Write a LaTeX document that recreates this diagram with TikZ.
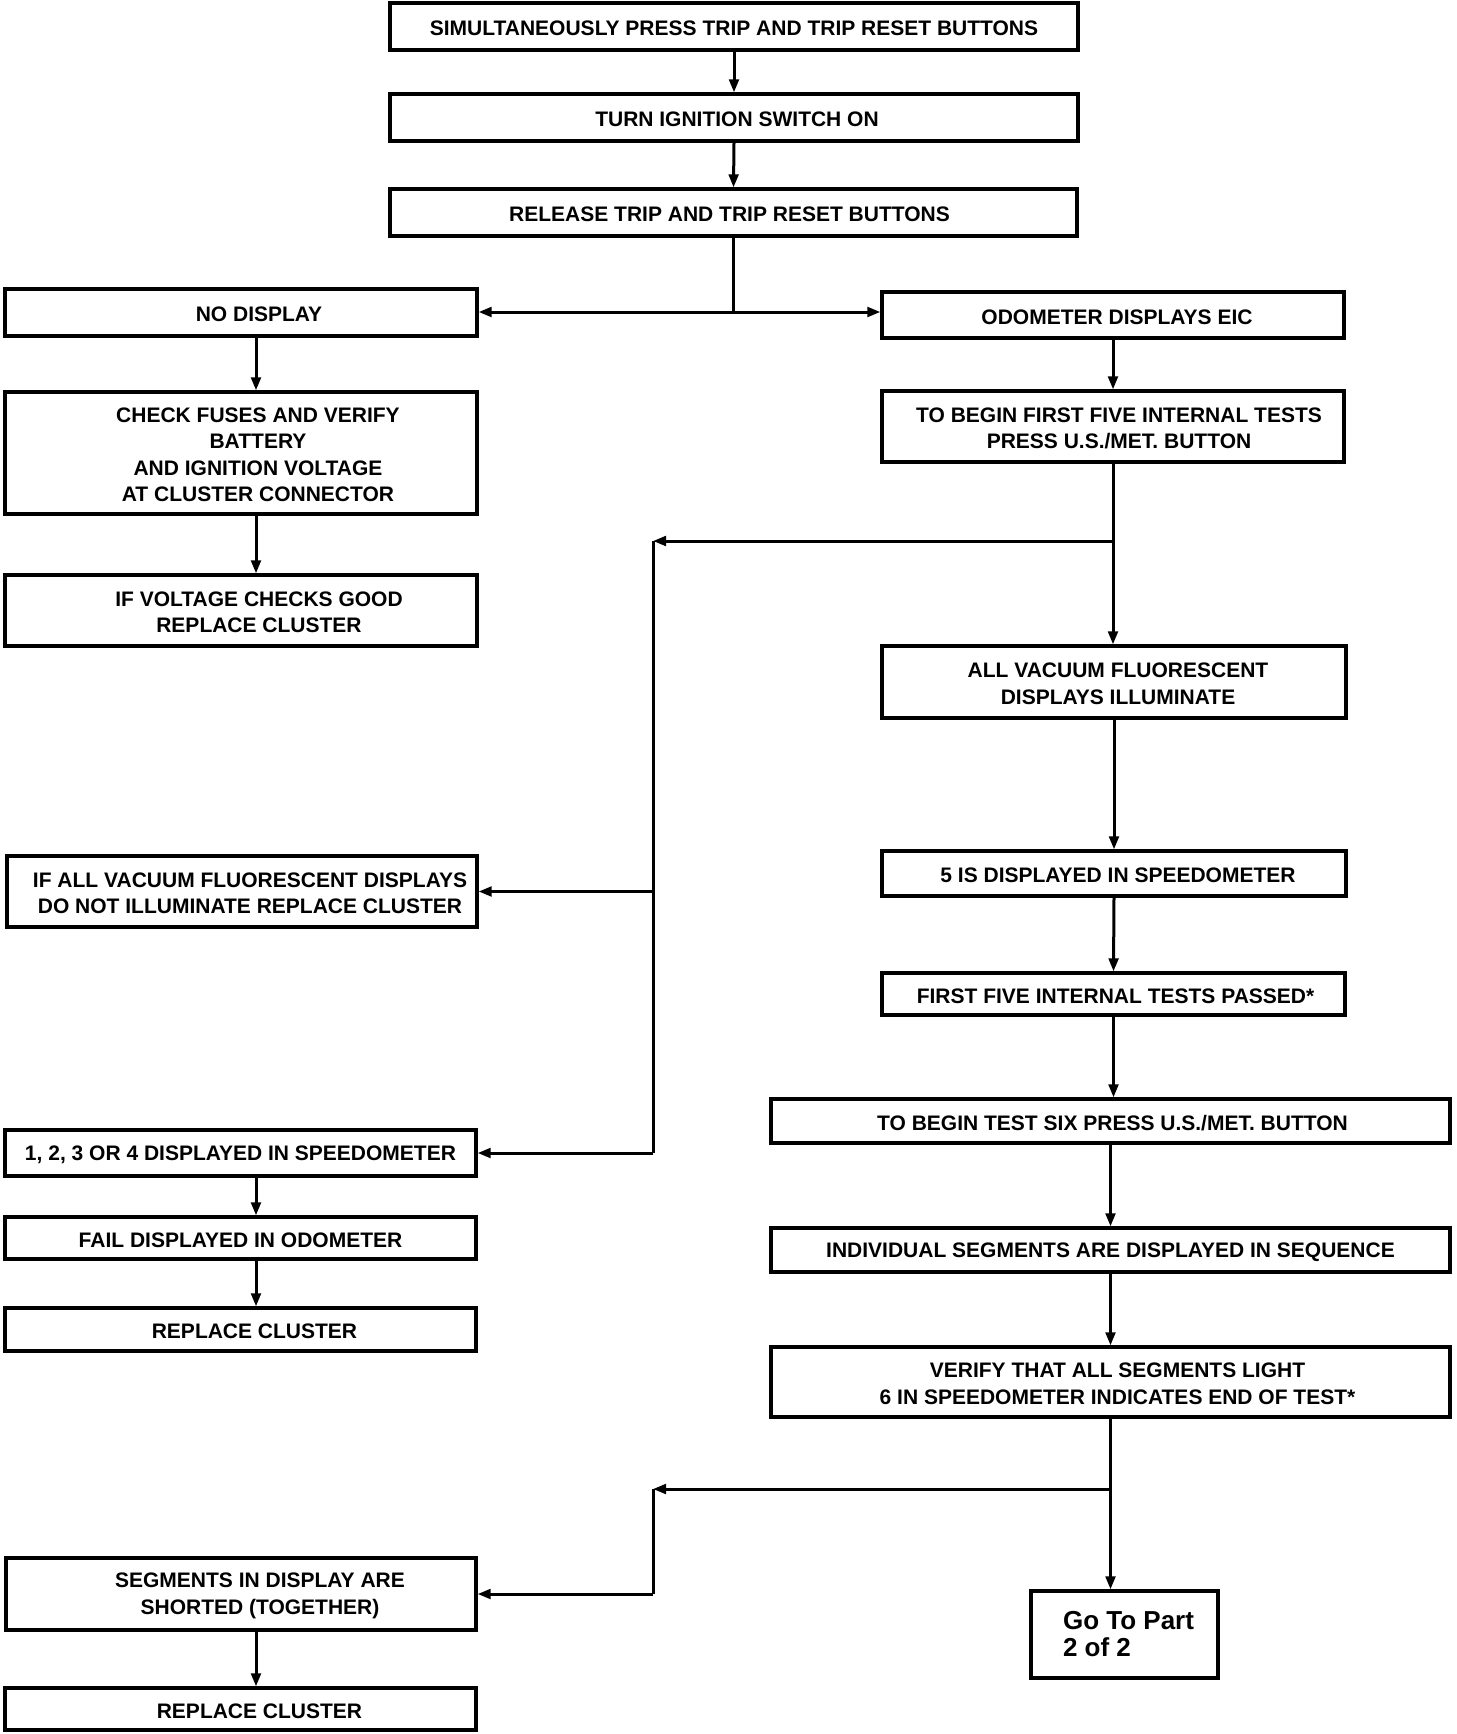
\documentclass[tikz,border=0pt]{standalone}
\usepackage{fontspec}
\setmainfont{Liberation Sans}
\usetikzlibrary{arrows.meta}
\newcommand\bx[7]{%
  \node[box, minimum width={(#4-#2)*0.5pt}, minimum height={(#5-#3)*0.5pt},
    label={[lbl, xshift={#6*0.5pt}]center:{#7}}] (#1) at ({(#2+#4)/2},{(#3+#5)/2}) {};}
\begin{document}
\begin{tikzpicture}[x=0.5pt,y=-0.5pt,
  box/.style={draw, line width=1.6pt, inner sep=0pt, rectangle},
  lbl/.style={font=\fontsize{10.5}{13.25}\selectfont\bfseries, align=center, inner sep=0pt, yshift=-1pt},
  golbl/.style={font=\fontsize{13}{13.5}\selectfont\bfseries, align=left, inner sep=0pt, xshift=2pt},
  arr/.style={line width=1.5pt, -{Triangle[length=6.5pt,width=4.8pt]}},
  ln/.style={line width=1.5pt}]
\fill[white] (0,0) rectangle (1456,1734);
\useasboundingbox (0,0) rectangle (1456,1734);

\bx{b1}{390}{3}{1078}{50}{0}{SIMULTANEOUSLY PRESS TRIP AND TRIP RESET BUTTONS}
\bx{b2}{390}{94}{1078}{141}{3}{TURN IGNITION SWITCH ON}
\bx{b3}{390}{189}{1077}{236}{-4}{RELEASE TRIP AND TRIP RESET BUTTONS}
\bx{b4}{5}{289}{477}{336}{18}{NO DISPLAY}
\bx{b5}{882}{292}{1344}{338}{4}{ODOMETER DISPLAYS EIC}
\bx{b6}{5}{392}{477}{514}{17}{CHECK FUSES AND VERIFY\\BATTERY\\AND IGNITION VOLTAGE\\AT CLUSTER CONNECTOR}
\bx{b7}{882}{391}{1344}{462}{6}{TO BEGIN FIRST FIVE INTERNAL TESTS\\PRESS U.S./MET. BUTTON}
\bx{b8}{5}{575}{477}{646}{18}{IF VOLTAGE CHECKS GOOD\\REPLACE CLUSTER}
\bx{b9}{882}{646}{1346}{718}{4}{ALL VACUUM FLUORESCENT\\DISPLAYS ILLUMINATE}
\bx{b10}{7}{856}{477}{927}{8}{IF ALL VACUUM FLUORESCENT DISPLAYS\\DO NOT ILLUMINATE REPLACE CLUSTER}
\bx{b11}{882}{851}{1346}{896}{4}{5 IS DISPLAYED IN SPEEDOMETER}
\bx{b12}{882}{973}{1345}{1015}{2}{FIRST FIVE INTERNAL TESTS PASSED*}
\bx{b13}{771}{1099}{1450}{1143}{2}{TO BEGIN TEST SIX PRESS U.S./MET. BUTTON}
\bx{b14}{5}{1130}{476}{1176}{0}{1, 2, 3 OR 4 DISPLAYED IN SPEEDOMETER}
\bx{b15}{5}{1217}{476}{1259}{0}{FAIL DISPLAYED IN ODOMETER}
\bx{b16}{771}{1228}{1450}{1272}{0}{INDIVIDUAL SEGMENTS ARE DISPLAYED IN SEQUENCE}
\bx{b17}{5}{1308}{476}{1351}{14}{REPLACE CLUSTER}
\bx{b18}{771}{1347}{1450}{1417}{7}{VERIFY THAT ALL SEGMENTS LIGHT\\6 IN SPEEDOMETER INDICATES END OF TEST*}
\bx{b19}{6}{1558}{476}{1630}{19}{SEGMENTS IN DISPLAY ARE\\SHORTED (TOGETHER)}
\node[box, minimum width=93.5pt, minimum height=43.5pt,
  label={[golbl]center:{Go To Part\\2 of 2}}] (b20) at (1124.5,1634.5) {};
\bx{b21}{5}{1688}{476}{1730}{19}{REPLACE CLUSTER}

\coordinate (xl) at (256,0);
\coordinate (j0) at (733.5,312);
\coordinate (c1) at (653,541);
\coordinate (c2) at (653,1489);

% centre column
\draw[arr] (b1.south) -- (b2.north);
\draw[arr] (b2.south) -- (b3.north);
\draw[ln] (b3.south) -- (j0);
\draw[arr] (j0) -- (j0 -| b4.east);
\draw[arr] (j0) -- (j0 -| b5.west);

% left column
\draw[arr] (b4.south -| xl) -- (b6.north -| xl);
\draw[arr] (b6.south -| xl) -- (b8.north -| xl);
\draw[arr] (b14.south -| xl) -- (b15.north -| xl);
\draw[arr] (b15.south -| xl) -- (b17.north -| xl);
\draw[arr] (b19.south -| xl) -- (b21.north -| xl);

% right column
\draw[arr] (b5.south) -- (b7.north);
\draw[arr] (b7.south) -- (b7.south |- b9.north);
\draw[arr] (b9.south) -- (b11.north);
\draw[arr] (b11.south) -- (b12.north);
\draw[arr] (b12.south) -- (b12.south |- b13.north);
\draw[arr] (b13.south) -- (b16.north);
\draw[arr] (b16.south) -- (b18.north);
\draw[arr] (b18.south) -- (b18.south |- b20.north);

% first loop
\draw[arr] (b7.south |- c1) -- (c1);
\draw[ln] (c1) -- (c1 |- b14.east);
\draw[arr] (c1 |- b10.east) -- (b10.east);
\draw[arr] (c1 |- b14.east) -- (b14.east);

% second loop
\draw[arr] (b18.south |- c2) -- (c2);
\draw[ln] (c2) -- (c2 |- b19.east);
\draw[arr] (c2 |- b19.east) -- (b19.east);
\end{tikzpicture}
\end{document}
